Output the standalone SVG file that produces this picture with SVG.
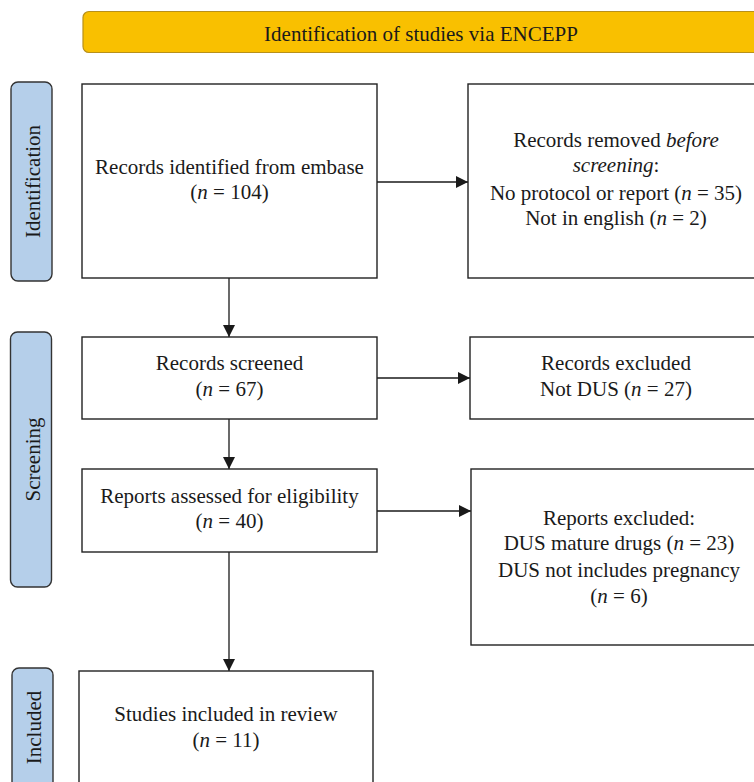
<svg xmlns="http://www.w3.org/2000/svg" width="754" height="782" viewBox="0 0 754 782">
<defs>
<marker id="ah" markerWidth="12" markerHeight="12" refX="12" refY="6" orient="auto" markerUnits="userSpaceOnUse">
<path d="M0,0 L12,6 L0,12 Z" fill="#1a1a1a"/>
</marker>
<style>
.t{font-family:"Liberation Serif","Times New Roman",serif;font-size:21px;fill:#1a1a1a;text-anchor:middle}
.i{font-style:italic}
.box{fill:#fff;stroke:#222;stroke-width:1.4}
.side{fill:#b5cfea;stroke:#333;stroke-width:1.4}
.ln{fill:none;stroke:#1a1a1a;stroke-width:1.3}
</style>
</defs>
<rect width="754" height="782" fill="#fff"/>

<g id="banner">
<rect x="83" y="11.5" width="680" height="41" rx="6" fill="#f9c000" stroke="#b8901a" stroke-width="1.2"/>
<text class="t" x="421" y="41">Identification of studies via ENCEPP</text>
</g>

<g id="side-identification">
<rect class="side" x="11" y="82" width="41" height="199" rx="7"/>
<text class="t" transform="translate(40,181.5) rotate(-90)">Identification</text>
</g>
<g id="side-screening">
<rect class="side" x="10.5" y="332" width="41" height="255" rx="7"/>
<text class="t" transform="translate(40,459.5) rotate(-90)">Screening</text>
</g>
<g id="side-included">
<rect class="side" x="12" y="668" width="41" height="130" rx="7"/>
<text class="t" transform="translate(41,727.5) rotate(-90)">Included</text>
</g>

<g id="connectors">
<line class="ln" x1="377" y1="182" x2="468" y2="182" marker-end="url(#ah)"/>
<line class="ln" x1="229" y1="278" x2="229" y2="337" marker-end="url(#ah)"/>
<line class="ln" x1="377" y1="378" x2="470" y2="378" marker-end="url(#ah)"/>
<line class="ln" x1="229" y1="419" x2="229" y2="469" marker-end="url(#ah)"/>
<line class="ln" x1="377" y1="511" x2="471" y2="511" marker-end="url(#ah)"/>
<line class="ln" x1="229" y1="552" x2="229" y2="671" marker-end="url(#ah)"/>
</g>

<g id="records-identified">
<rect class="box" x="82" y="84" width="295" height="194"/>
<text class="t" x="229.5" y="174">Records identified from embase</text>
<text class="t" x="229.5" y="199">(<tspan class="i">n</tspan> = 104)</text>
</g>

<g id="records-removed">
<rect class="box" x="468" y="84" width="296" height="194"/>
<text class="t" x="616" y="147">Records removed <tspan class="i">before</tspan></text>
<text class="t" x="616" y="172"><tspan class="i">screening</tspan>:</text>
<text class="t" x="616" y="199.5">No protocol or report (<tspan class="i">n</tspan> = 35)</text>
<text class="t" x="616" y="225">Not in english (<tspan class="i">n</tspan> = 2)</text>
</g>

<g id="records-screened">
<rect class="box" x="82" y="337" width="295" height="82"/>
<text class="t" x="229.5" y="370">Records screened</text>
<text class="t" x="229.5" y="396">(<tspan class="i">n</tspan> = 67)</text>
</g>

<g id="records-excluded">
<rect class="box" x="470" y="337" width="292" height="82"/>
<text class="t" x="616" y="370">Records excluded</text>
<text class="t" x="616" y="396">Not DUS (<tspan class="i">n</tspan> = 27)</text>
</g>

<g id="reports-assessed">
<rect class="box" x="82" y="469" width="295" height="83"/>
<text class="t" x="229.5" y="503">Reports assessed for eligibility</text>
<text class="t" x="229.5" y="528">(<tspan class="i">n</tspan> = 40)</text>
</g>

<g id="reports-excluded">
<rect class="box" x="471" y="469" width="296" height="176"/>
<text class="t" x="619" y="525">Reports excluded:</text>
<text class="t" x="619" y="550">DUS mature drugs (<tspan class="i">n</tspan> = 23)</text>
<text class="t" x="619" y="577">DUS not includes pregnancy</text>
<text class="t" x="619" y="603">(<tspan class="i">n</tspan> = 6)</text>
</g>

<g id="studies-included">
<rect class="box" x="79" y="671" width="294" height="130"/>
<text class="t" x="226" y="720.5">Studies included in review</text>
<text class="t" x="226" y="746.5">(<tspan class="i">n</tspan> = 11)</text>
</g>
</svg>
